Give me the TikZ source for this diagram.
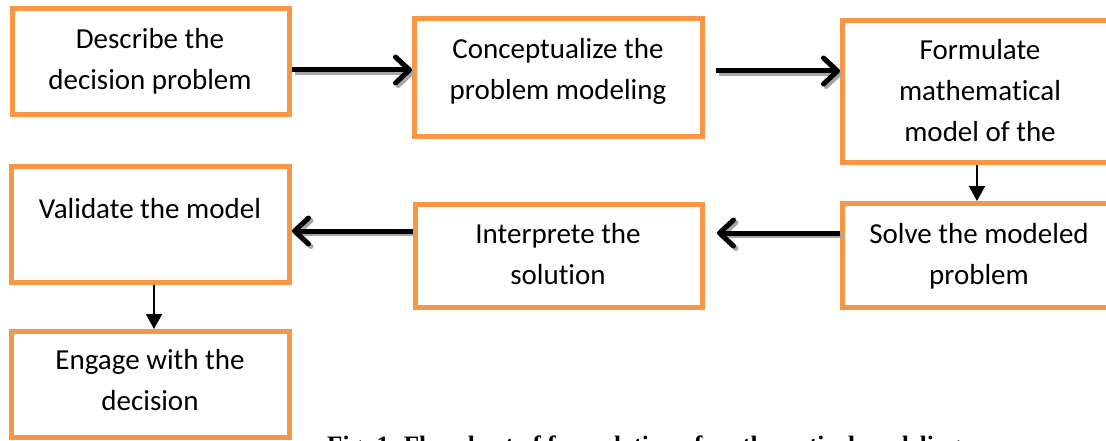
\documentclass[tikz,border=0pt]{standalone}
\usepackage{fontspec}
\setmainfont{Carlito}[Ligatures=NoCommon]
\newfontfamily\capfont{Liberation Serif}
\usetikzlibrary{arrows.meta}
\definecolor{boxorange}{HTML}{F79646}
\tikzset{
  stepbox/.style={draw=boxorange, line width=5pt, fill=white, rectangle, inner sep=0pt},
  boxtext/.style={font=\fontsize{29}{41}\selectfont, align=center, inner sep=0pt, anchor=base},
  bigarrow/.style={line width=5pt, -{Straight Barb[length=14pt,width=26pt,round]}},
  shadowarrow/.style={bigarrow, draw=black!35},
  thinarrow/.style={line width=1.8pt, -{Triangle[length=15pt,width=16pt]}}
}
\begin{document}
\begin{tikzpicture}[x=1pt,y=-1pt]
\useasboundingbox (0,0) rectangle (1106,441);
% boxes
\node[stepbox, minimum width=277pt, minimum height=106pt] (b1) at (151,61.5) {};
\node[stepbox, minimum width=288pt, minimum height=118pt] (b2) at (558.5,77.5) {};
\node[stepbox, minimum width=275pt, minimum height=142pt] (b3) at (980,91.5) {};
\node[stepbox, minimum width=275pt, minimum height=104pt] (b4) at (980,255.5) {};
\node[stepbox, minimum width=287pt, minimum height=103pt] (b5) at (559,256) {};
\node[stepbox, minimum width=278pt, minimum height=116pt] (b6) at (150.5,224.5) {};
\node[stepbox, minimum width=278pt, minimum height=106pt] (b7) at (150.5,384.5) {};
% texts (anchored at the baseline of the last line)
\node[boxtext] (t1) at (150,90) {Describe the\\decision problem};
\node[boxtext] (t2) at (558,100) {Conceptualize the\\problem modeling};
\node[boxtext] (t3) at (980,142) {Formulate\\mathematical\\model of the};
\node[boxtext] (t4) at (979,284) {Solve the modeled\\problem};
\node[boxtext] (t5) at (558,284) {Interprete the\\solution};
\node[boxtext] (t6) at (150,218) {Validate the model};
\node[boxtext] (t7) at (150,410) {Engage with the\\decision};
% caption
\node[anchor=north west, inner sep=0pt] (cap) at (327,435.5)
  {\resizebox{633pt}{!}{\capfont\bfseries Fig. 1. Flowchart of formulation of mathematical modeling}};
% connector shadows
\begin{scope}[transform canvas={shift={(2.5pt,-2.5pt)}}]
\draw[shadowarrow] ([yshift=-8.5pt]b1.east) -- ([yshift=7.5pt]b2.west);
\draw[shadowarrow] ([xshift=11pt,yshift=6.5pt]b2.east) -- ([yshift=20.5pt]b3.west);
\draw[shadowarrow] ([yshift=22.5pt]b4.west) -- ([xshift=12pt,yshift=23pt]b5.east);
\draw[shadowarrow] ([yshift=25pt]b5.west) -- ([yshift=-6.5pt]b6.east);
\end{scope}
% connectors
\draw[bigarrow] ([yshift=-8.5pt]b1.east) -- ([yshift=7.5pt]b2.west);
\draw[bigarrow] ([xshift=11pt,yshift=6.5pt]b2.east) -- ([yshift=20.5pt]b3.west);
\draw[bigarrow] ([yshift=22.5pt]b4.west) -- ([xshift=12pt,yshift=23pt]b5.east);
\draw[bigarrow] ([yshift=25pt]b5.west) -- ([yshift=-6.5pt]b6.east);
\draw[thinarrow] ([xshift=-3pt]b3.south) -- ([xshift=-3pt]b4.north);
\draw[thinarrow] ([xshift=3.5pt]b6.south) -- ([xshift=3.5pt]b7.north);
\end{tikzpicture}
\end{document}
